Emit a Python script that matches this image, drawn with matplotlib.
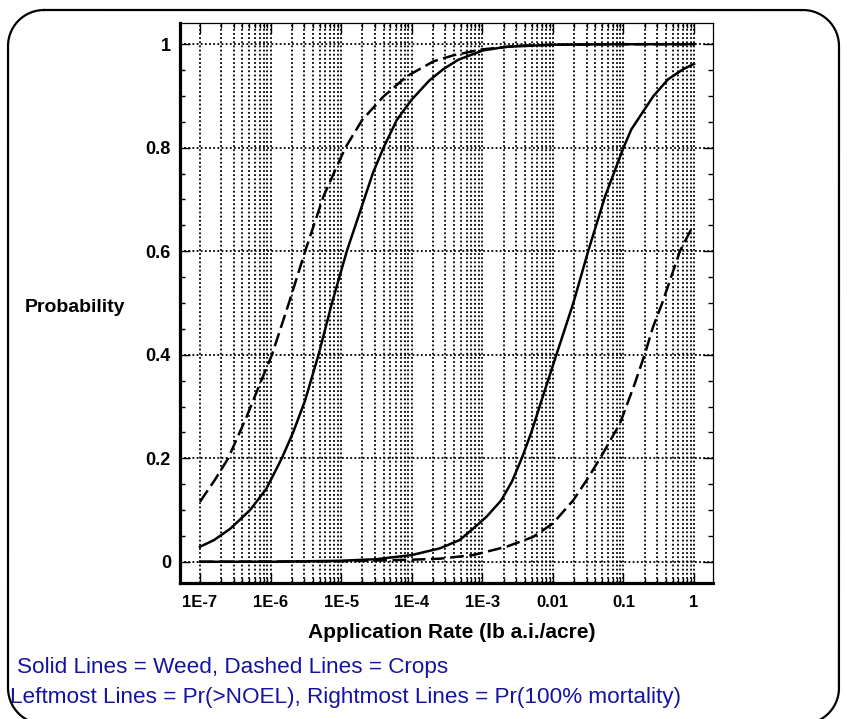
import numpy as np
import matplotlib
matplotlib.use("Agg")
import matplotlib.pyplot as plt
from matplotlib.ticker import FixedLocator, NullFormatter

plt.rcParams['font.family'] = ['Liberation Sans', 'DejaVu Sans']

# ---- data (x as log10 of application rate, y = probability) ----
weed_noel_log = [-7.0, -6.80, -6.57, -6.29, -6.06, -5.84, -5.68, -5.51, -5.32, -5.13,
                 -4.92, -4.66, -4.55, -4.40, -4.21, -4.00, -3.75, -3.55, -3.34, -2.99,
                 -2.66, -2.0, -1.0, 0.0]
weed_noel_p = [0.029, 0.042, 0.064, 0.100, 0.141, 0.200, 0.250, 0.312, 0.400, 0.500,
               0.600, 0.706, 0.751, 0.800, 0.854, 0.893, 0.930, 0.952, 0.970, 0.988,
               0.995, 0.999, 1.0, 1.0]

crop_noel_log = [-7.0, -6.79, -6.60, -6.34, -6.15, -5.98, -5.74, -5.51, -5.25, -5.04,
                 -4.94, -4.70, -4.40, -4.07, -3.69, -3.40, -3.0, -2.5, -2.0, -1.0, 0.0]
crop_noel_p = [0.116, 0.158, 0.200, 0.280, 0.344, 0.400, 0.500, 0.600, 0.706, 0.770,
               0.800, 0.854, 0.899, 0.938, 0.967, 0.979, 0.990, 0.997, 0.999, 1.0, 1.0]

weed_mort_log = [-7.0, -6.0, -5.0, -4.5, -4.0, -3.60, -3.32, -3.13, -2.94, -2.73,
                 -2.58, -2.44, -2.30, -2.16, -1.95, -1.71, -1.50, -1.26, -1.00, -0.89,
                 -0.58, -0.37, -0.15, 0.0]
weed_mort_p = [0.0, 0.0, 0.002, 0.005, 0.013, 0.026, 0.042, 0.064, 0.087, 0.119,
               0.155, 0.200, 0.252, 0.312, 0.400, 0.500, 0.600, 0.706, 0.800, 0.835,
               0.899, 0.932, 0.952, 0.962]

crop_mort_log = [-7.0, -5.0, -4.0, -3.60, -3.13, -2.66, -2.28, -2.00, -1.71, -1.52,
                 -1.33, -1.05, -0.84, -0.70, -0.58, -0.45, -0.20, -0.03]
crop_mort_p = [0.0, 0.001, 0.004, 0.006, 0.013, 0.029, 0.048, 0.074, 0.119, 0.158,
               0.200, 0.267, 0.344, 0.400, 0.454, 0.500, 0.600, 0.645]

xtick_vals = [1e-7, 1e-6, 1e-5, 1e-4, 1e-3, 1e-2, 1e-1, 1.0]
xtick_labels = ["1E-7", "1E-6", "1E-5", "1E-4", "1E-3", "0.01", "0.1", "1"]
ytick_vals = [0, 0.2, 0.4, 0.6, 0.8, 1.0]
ytick_labels = ["0", "0.2", "0.4", "0.6", "0.8", "1"]

x_label = "Application Rate (lb a.i./acre)"
y_label = "Probability"
note1 = "Solid Lines = Weed, Dashed Lines = Crops"
note2 = "Leftmost Lines = Pr(>NOEL), Rightmost Lines = Pr(100% mortality)"

W, H = 847, 719
fig = plt.figure(figsize=(W / 100, H / 100), dpi=100)

# background layer in pixel coordinates
bg = fig.add_axes([0, 0, 1, 1], zorder=0)
bg.set_xlim(0, W)
bg.set_ylim(H, 0)
bg.axis('off')

# rounded frame around the whole figure
x0, y0, x1, y1, r = 8, 10, 839, 724, 36
t = np.linspace(0, np.pi / 2, 30)
seg = []
seg.append((np.array([x0 + r, x1 - r]), np.array([y0, y0])))
seg.append((x1 - r + r * np.sin(t), y0 + r - r * np.cos(t)))
seg.append((np.array([x1, x1]), np.array([y0 + r, y1 - r])))
seg.append((x1 - r + r * np.cos(t), y1 - r + r * np.sin(t)))
seg.append((np.array([x1 - r, x0 + r]), np.array([y1, y1])))
seg.append((x0 + r - r * np.sin(t), y1 - r + r * np.cos(t)))
seg.append((np.array([x0, x0]), np.array([y1 - r, y0 + r])))
seg.append((x0 + r - r * np.cos(t), y0 + r - r * np.sin(t)))
fx = np.concatenate([s[0] for s in seg])
fy = np.concatenate([s[1] for s in seg])
bg.plot(fx, fy, color='black', lw=1.6, solid_joinstyle='round')

blue = '#1414a0'
bg.text(17, 667, note1, color=blue, fontsize=16.2, ha='left', va='center')
bg.text(10, 697, note2, color=blue, fontsize=16.2, ha='left', va='center')
bg.text(25, 307, y_label, fontsize=14, fontweight='bold', ha='left', va='center')
bg.text(452, 632, x_label, fontsize=15, fontweight='bold', ha='center', va='center')

# main axes
ax = fig.add_axes([180 / W, 1 - 583 / H, (713 - 180) / W, (583 - 23) / H], zorder=1)
ax.set_xscale('log')
ax.set_xlim(10 ** -7.283, 10 ** 0.269)
ax.set_ylim(-0.041, 1.041)

lw = 1.8
dash = (0, (5.5, 2.2))
ax.plot(10 ** np.array(weed_noel_log), weed_noel_p, color='black', lw=lw, solid_joinstyle='round')
ax.plot(10 ** np.array(weed_mort_log), weed_mort_p, color='black', lw=lw, solid_joinstyle='round')
ax.plot(10 ** np.array(crop_noel_log), crop_noel_p, color='black', lw=lw, ls=dash)
ax.plot(10 ** np.array(crop_mort_log), crop_mort_p, color='black', lw=lw, ls=dash)

ax.set_xticks(xtick_vals)
ax.set_xticklabels(xtick_labels, fontsize=12, fontweight='bold')
minor_x = [m * 10.0 ** e for e in range(-7, 0) for m in range(2, 10)]
ax.xaxis.set_minor_locator(FixedLocator(minor_x))
ax.xaxis.set_minor_formatter(NullFormatter())

ax.set_yticks(ytick_vals)
ax.set_yticklabels(ytick_labels, fontsize=13, fontweight='bold')
minor_y = [0.05, 0.1, 0.15, 0.25, 0.3, 0.35, 0.45, 0.5, 0.55, 0.65, 0.7, 0.75, 0.85, 0.9, 0.95]
ax.yaxis.set_minor_locator(FixedLocator(minor_y))

ax.tick_params(which='both', direction='in', top=True, right=True, width=1.0, color='black')
ax.tick_params(which='major', length=7)
ax.tick_params(which='minor', length=3.6)
ax.tick_params(axis='x', which='major', pad=8.5)
ax.tick_params(axis='y', which='major', pad=6.5)

grid_style = dict(color='black', lw=1.3, ls=(0, (1, 1.3)))
ax.grid(which='major', axis='both', **grid_style)
ax.grid(which='minor', axis='x', **grid_style)
ax.set_axisbelow(True)

for s in ['left', 'bottom']:
    ax.spines[s].set_linewidth(2.3)
for s in ['top', 'right']:
    ax.spines[s].set_linewidth(0.9)

fig.savefig('out.png', dpi=100)
